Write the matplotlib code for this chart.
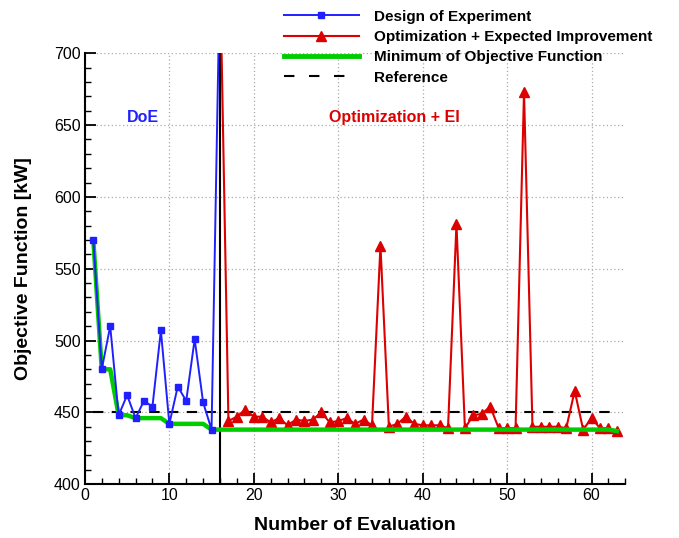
import numpy as np
import matplotlib
matplotlib.use("Agg")
import matplotlib.pyplot as plt
from matplotlib.ticker import MultipleLocator
from matplotlib.lines import Line2D

plt.rcParams['font.family'] = ['Liberation Sans', 'DejaVu Sans']

# DoE data
doe_x = list(range(1, 17))
doe_y = [570, 480, 510, 448, 462, 446, 458, 454, 507, 442, 468, 458, 501, 457, 438, 760]

# Optimization + EI data
opt_x = list(range(16, 64))
opt_y = [760, 444, 447, 452, 447, 447, 443, 446, 441, 445, 444, 445, 450, 443, 444,
         446, 442, 445, 441, 566, 440, 442, 447, 442, 441, 441, 441, 439, 581, 439,
         448, 449, 454, 439, 439, 439, 673, 440, 440, 440, 440, 439, 465, 438, 446,
         439, 439, 437]

reference_value = 450
split_x = 16

# minimum of objective function (running minimum of all evaluations)
all_x = doe_x[:-1] + opt_x
all_y = doe_y[:-1] + opt_y
min_y = np.minimum.accumulate(all_y)

fig = plt.figure(figsize=(6.79, 5.38), dpi=100)
ax = fig.add_axes([0.125, 0.100, 0.796, 0.801])

blue = '#2020ff'
red = '#dd0000'
green = '#00cc00'

ax.plot(doe_x, doe_y, color=blue, lw=1.4, marker='s', ms=5, zorder=4)
ax.plot(opt_x, opt_y, color=red, lw=1.5, marker='^', ms=7.5, zorder=3)
ax.plot(all_x, min_y, color=green, lw=3.2, zorder=3.5)
ax.plot([1, 63], [reference_value, reference_value], color='black', lw=1.5,
        ls=(0, (5, 4)), zorder=2.5)
ax.axvline(split_x, color='black', lw=1.5, zorder=2)

ax.set_xlim(0, 64)
ax.set_ylim(400, 700)
ax.xaxis.set_major_locator(MultipleLocator(10))
ax.xaxis.set_minor_locator(MultipleLocator(2))
ax.yaxis.set_major_locator(MultipleLocator(50))
ax.yaxis.set_minor_locator(MultipleLocator(10))
ax.tick_params(which='major', direction='in', length=8, width=1.3, labelsize=11.5, pad=3)
ax.tick_params(which='minor', direction='in', length=4, width=1.0)
ax.spines['top'].set_visible(False)
ax.spines['right'].set_visible(False)
for s in ['left', 'bottom']:
    ax.spines[s].set_linewidth(1.5)
ax.grid(True, which='major', color='#aaaaaa', ls=(0, (1, 2)), lw=0.9)

ax.set_xlabel('Number of Evaluation', fontsize=14, fontweight='bold', labelpad=10)
ax.set_ylabel('Objective Function [kW]', fontsize=14, fontweight='bold', labelpad=16)

ax.text(6.9, 655, 'DoE', color=blue, fontsize=11.5, fontweight='bold', ha='center', va='center')
ax.text(36.7, 655, 'Optimization + EI', color=red, fontsize=11.5, fontweight='bold',
        ha='center', va='center')

handles = [
    Line2D([], [], color=blue, lw=1.4, marker='s', ms=5),
    Line2D([], [], color=red, lw=1.5, marker='^', ms=7),
    Line2D([], [], color=green, lw=3.5),
    Line2D([], [], color='black', lw=1.5, ls=(0, (5, 7))),
]
labels = ['Design of Experiment', 'Optimization + Expected Improvement',
          'Minimum of Objective Function', 'Reference']
fig.legend(handles, labels, loc='upper left', bbox_to_anchor=(0.400, 1.005),
           frameon=False, prop={'weight': 'bold', 'size': 11}, handlelength=4.9,
           handletextpad=1.0, labelspacing=0.42, borderpad=0.3)

fig.savefig('out.png', dpi=100)
